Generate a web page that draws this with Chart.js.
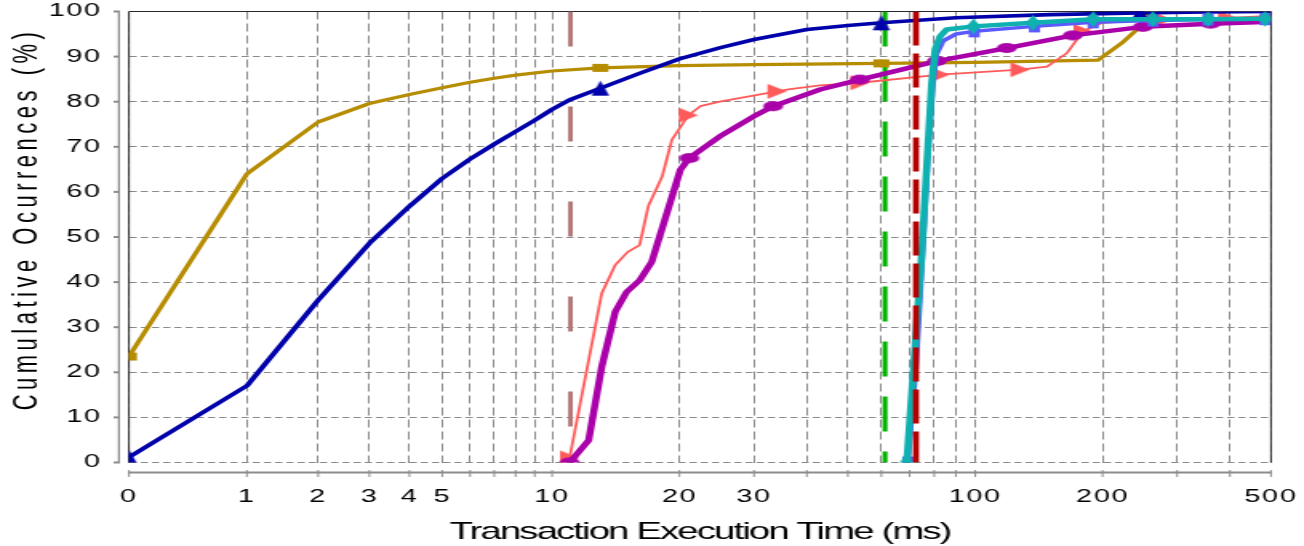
<!DOCTYPE html>
<html>
<head>
<meta charset="utf-8">
<script src="https://cdn.jsdelivr.net/npm/chart.js"></script>
<style>
  html, body { margin: 0; padding: 0; background: #fff; }
  canvas { display: block; }
</style>
</head>
<body>
<canvas id="cdf" width="815" height="546" style="width:1304px;height:546px"></canvas>
<script>
// ---- axis ticks -------------------------------------------------------
const tickMs     = [0, 1, 2, 3, 4, 5, 6, 7, 8, 9, 10, 20, 30, 40, 50, 60, 70, 80, 90, 100, 200, 300, 400, 500];
const labelledMs = [0, 1, 2, 3, 4, 5, 10, 20, 30, 100, 200, 500];

// ---- series: execution time (ms) and cumulative occurrences (%) -------
const blueMs   = [0, 1, 2, 3, 4, 5, 6, 7, 8, 9, 10, 11, 13, 16, 20, 25, 30, 40, 50, 60, 90, 150, 245, 350, 500];
const bluePct  = [1.2, 17, 36, 48.6, 56.8, 63, 67.3, 70.6, 73.4, 75.9, 78.3, 80.4, 83, 86.2, 89.5, 92, 93.8, 96, 96.9, 97.5, 98.6, 99.3, 99.7, 99.9, 100];
const blueMarks = [0, 13, 60, 245];

const goldMs   = [0, 1, 2, 3, 4, 5, 6, 7, 8, 10, 13, 20, 30, 60, 100, 195, 222, 241, 257, 300, 500];
const goldPct  = [23.5, 64, 75.5, 79.6, 81.6, 83.1, 84.3, 85.2, 85.9, 86.8, 87.5, 88, 88.2, 88.5, 88.7, 89.2, 93, 96, 99.8, 100, 100];
const goldMarks = [0, 13, 60, 257];

const coralMs  = [11, 13.1, 14.1, 15.1, 16.1, 16.9, 17.7, 18.2, 19.2, 21, 22.4, 24.9, 34, 36.5, 43, 53.4, 82.6, 127.6, 147.8, 164.8, 179.8, 200, 278, 395, 500];
const coralPct = [1, 37.5, 43.8, 46.7, 48.2, 57, 61, 63.4, 71.6, 77, 79, 80, 82.3, 82.8, 83.6, 84.2, 86, 87.1, 87.8, 90.8, 95.6, 97.5, 98.2, 98.6, 99];
const coralMarks = [11, 21, 34, 53.4, 82.6, 127.6, 179.8, 278, 395];

const purpleMs  = [11, 12.2, 13.1, 14.1, 15, 16.1, 17.2, 20.1, 21.1, 24.9, 29.9, 33.3, 43, 53.4, 81.1, 118.7, 170, 249, 360, 500];
const purplePct = [0, 4.9, 21.2, 33.4, 37.8, 40.4, 44.5, 64.9, 67.5, 72.3, 76.7, 79, 82.7, 84.9, 89, 91.9, 94.7, 96.6, 97.3, 97.7];
const purpleMarks = [11, 21.1, 33.3, 53.4, 81.1, 118.7, 170, 249, 360];

const tealMs   = [68.9, 72, 73.4, 74.7, 76.8, 78.9, 80.4, 82.6, 85.6, 99, 137, 190, 263, 355, 484, 500];
const tealPct  = [0, 25, 36, 46, 65.6, 84, 91.6, 94.5, 96, 96.7, 97.5, 98.3, 98.3, 98.3, 98.4, 98.4];
const tealMarks = [68.9, 99, 137, 190, 263, 355, 484];

const periMs   = [69.3, 72.5, 74, 75.5, 77.3, 79.5, 81, 84, 90, 99.4, 138, 190, 263, 355, 484, 500];
const periPct  = [0, 22, 36, 50, 68, 84, 90.5, 93.5, 95, 95.6, 96.7, 97.6, 98, 98.2, 98.3, 98.3];
const periMarks = [69.3, 99.4, 138, 190, 263, 355, 484];

// reference times drawn as vertical dashed lines (ms)
const roseLineMs  = 11.05;
const greenLineMs = 61.2;
const redLineMs   = 72.45;

// ---- axis mapping: 0..10 spread linearly over the first log decade ----
function axisPos(ms) {
  return ms <= 10 ? Math.log10(1 + 0.9 * ms) : Math.log10(ms);
}

// ---- marker glyphs ----------------------------------------------------
function marker(kind, w, h, color) {
  const c = document.createElement('canvas');
  c.width = Math.ceil(w) + 2;
  c.height = Math.ceil(h) + 2;
  const g = c.getContext('2d');
  const cx = c.width / 2, cy = c.height / 2;
  g.fillStyle = color;
  g.beginPath();
  if (kind === 'triUp') {
    g.moveTo(cx, cy - h / 2); g.lineTo(cx + w / 2, cy + h / 2); g.lineTo(cx - w / 2, cy + h / 2);
  } else if (kind === 'triRight') {
    g.moveTo(cx + w / 2, cy); g.lineTo(cx - w / 2, cy - h / 2); g.lineTo(cx - w / 2, cy + h / 2);
  } else if (kind === 'rect') {
    g.rect(cx - w / 2, cy - h / 2, w, h);
  } else if (kind === 'ellipse') {
    g.ellipse(cx, cy, w / 2, h / 2, 0, 0, Math.PI * 2);
  } else if (kind === 'diamond') {
    g.moveTo(cx, cy - h / 2); g.lineTo(cx + w / 2, cy); g.lineTo(cx, cy + h / 2); g.lineTo(cx - w / 2, cy);
  }
  g.closePath();
  g.fill();
  return c;
}

function series(ms, pct, marks, color, width, glyph, order) {
  return {
    data: ms.map((m, i) => ({ x: axisPos(m), y: pct[i] })),
    borderColor: color,
    backgroundColor: color,
    borderWidth: width,
    pointRadius: ms.map(m => (marks.includes(m) ? 6 : 0)),
    pointHoverRadius: 0,
    pointStyle: glyph,
    tension: 0,
    borderJoinStyle: 'round',
    order
  };
}

function vline(ms, color, width, dash, order) {
  return {
    data: [{ x: axisPos(ms), y: 100 }, { x: axisPos(ms), y: 0 }],
    borderColor: color,
    borderWidth: width,
    borderDash: dash,
    borderCapStyle: 'butt',
    pointRadius: 0,
    pointHoverRadius: 0,
    order
  };
}

// keep the plot area fixed: no extra room for overhanging tick labels
function pinScale(s, size) {
  if (s.isHorizontal()) s.height = size; else s.width = size;
  s.paddingTop = 0; s.paddingBottom = 0; s.paddingLeft = 0; s.paddingRight = 0;
}

const FONT = '"Liberation Sans", Arial, Helvetica, sans-serif';

// frame, offset axes and axis titles
const decorations = {
  id: 'decorations',
  beforeDraw(chart) {
    chart.ctx.letterSpacing = '1px';
  },
  beforeDatasetsDraw(chart) {
    const { ctx, chartArea: a } = chart;
    ctx.save();
    ctx.strokeStyle = '#2a2a2a';
    ctx.lineWidth = 1;
    ctx.beginPath();
    ctx.moveTo(a.left, a.bottom);
    ctx.lineTo(a.left, a.top);
    ctx.lineTo(a.right, a.top);
    ctx.lineTo(a.right, a.bottom);
    ctx.stroke();
    ctx.restore();
  },
  afterDraw(chart) {
    const { ctx, chartArea: a, scales } = chart;
    ctx.save();
    ctx.strokeStyle = '#8c8c8c';

    // left axis, set off from the plot frame
    const ax = a.left - 6.25;
    ctx.lineWidth = 1.25;
    ctx.beginPath();
    ctx.moveTo(ax, a.top - 0.5);
    ctx.lineTo(ax, a.bottom + 0.5);
    ctx.stroke();
    ctx.lineWidth = 2;
    scales.y.ticks.forEach(t => {
      const py = scales.y.getPixelForValue(t.value);
      ctx.beginPath();
      ctx.moveTo(ax - 3.4, py);
      ctx.lineTo(ax + 0.6, py);
      ctx.stroke();
    });

    // bottom axis, set off from the plot frame
    const ay = a.bottom + 10;
    ctx.lineWidth = 2;
    ctx.beginPath();
    ctx.moveTo(a.left - 0.6, ay);
    ctx.lineTo(a.right + 0.6, ay);
    ctx.stroke();
    ctx.lineWidth = 1;
    scales.x.ticks.forEach(t => {
      const px = scales.x.getPixelForValue(t.value);
      ctx.beginPath();
      ctx.moveTo(px, ay - 2.5);
      ctx.lineTo(px, ay + 4.5);
      ctx.stroke();
    });

    // axis titles
    ctx.fillStyle = '#000';
    ctx.textAlign = 'center';
    ctx.textBaseline = 'alphabetic';
    ctx.font = '24px ' + FONT;
    ctx.letterSpacing = '-1.2px';
    ctx.fillText('Transaction Execution Time (ms)', (a.left + a.right) / 2, 539);

    ctx.font = '22px ' + FONT;
    ctx.letterSpacing = '4.5px';
    ctx.translate(23.1, 219);
    ctx.rotate(-Math.PI / 2);
    ctx.fillText('Cumulative Ocurrences (%)', 0, 0);
    ctx.restore();
  }
};

new Chart(document.getElementById('cdf'), {
  type: 'line',
  data: {
    datasets: [
      vline(redLineMs, '#b30000', 3.75, [34, 8], 0),
      series(tealMs, tealPct, tealMarks, '#0fb0b0', 4.5, marker('diamond', 9, 16, '#0fb0b0'), 1),
      series(periMs, periPct, periMarks, '#5a5aff', 3.5, marker('rect', 7, 12, '#5a5aff'), 2),
      series(blueMs, bluePct, blueMarks, '#0000aa', 3.6, marker('triUp', 11, 15, '#0000aa'), 3),
      series(purpleMs, purplePct, purpleMarks, '#aa00aa', 4.5, marker('ellipse', 12.5, 10, '#aa00aa'), 4),
      series(coralMs, coralPct, coralMarks, '#ff5a5a', 1.8, marker('triRight', 12, 15, '#ff5a5a'), 5),
      series(goldMs, goldPct, goldMarks, '#b68c00', 3.2, marker('rect', 10, 8, '#b68c00'), 6),
      vline(greenLineMs, '#00b400', 3.1, [35, 20], 7),
      vline(roseLineMs, '#b07878', 2.9, [35, 60], 8)
    ]
  },
  options: {
    responsive: false,
    animation: false,
    events: [],
    layout: { autoPadding: false, padding: { left: 0, top: 11.5, right: 815 - 1271 / 1.6, bottom: 0 } },
    plugins: { legend: { display: false }, tooltip: { enabled: false } },
    scales: {
      x: {
        type: 'linear',
        min: 0,
        max: axisPos(500),
        afterBuildTicks: s => { s.ticks = tickMs.map(v => ({ value: axisPos(v) })); },
        afterFit: s => pinScale(s, 546 - 462.5),
        ticks: {
          autoSkip: false,
          maxRotation: 0,
          padding: 24,
          color: '#000',
          font: { family: FONT, size: 18 },
          callback: (v, i) => (labelledMs.includes(tickMs[i]) ? String(tickMs[i]) : '')
        },
        grid: { color: '#8a8a8a', lineWidth: 1, drawTicks: false },
        border: { display: false, dash: [8, 4] }
      },
      y: {
        type: 'linear',
        min: 0,
        max: 100,
        afterFit: s => pinScale(s, 129 / 1.6),
        ticks: {
          stepSize: 10,
          padding: 17,
          color: '#000',
          font: { family: FONT, size: 18 }
        },
        grid: { color: '#8a8a8a', lineWidth: 1, drawTicks: false },
        border: { display: false, dash: [4.5, 2.5] }
      }
    }
  },
  plugins: [decorations]
});
</script>
</body>
</html>
